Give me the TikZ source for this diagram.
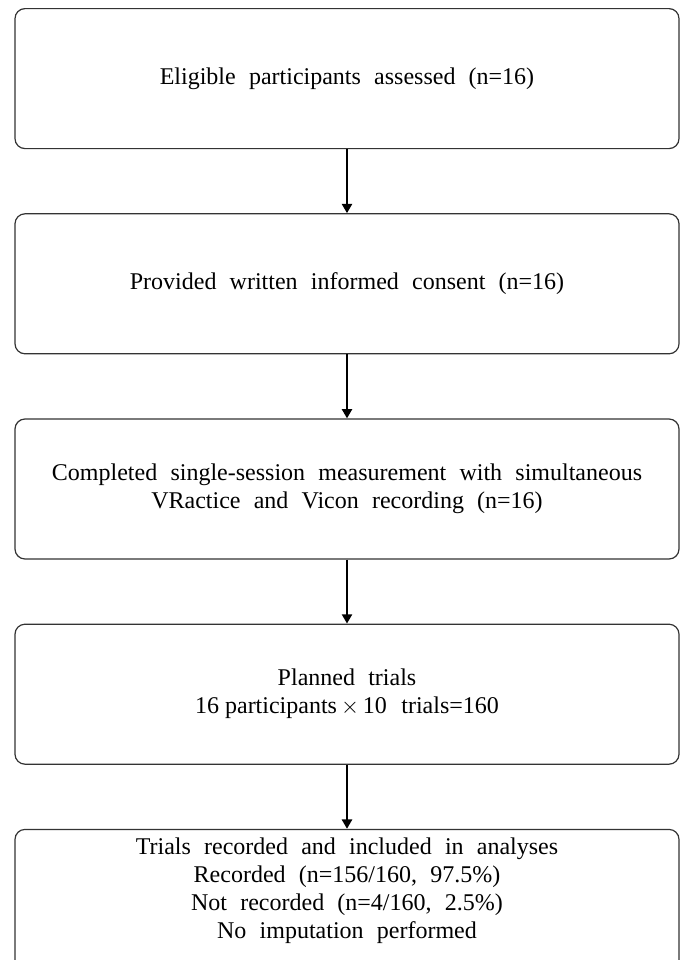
\documentclass[tikz,border=0pt]{standalone}
\usepackage{fontspec}
\setmainfont{Liberation Serif}
\usetikzlibrary{positioning,arrows.meta}
\newcommand\widewords{\spaceskip=0.55em\relax}
\tikzset{
  stage/.style={draw=black!80,line width=0.9pt,rounded corners=7.5pt,
    minimum width=498pt,minimum height=105pt,align=center,
    font=\fontsize{18}{21}\selectfont,execute at begin node=\widewords},
  flow/.style={line width=1.8pt,-{Triangle[length=7pt,width=7.5pt]}}
}
\begin{document}
\begin{tikzpicture}[node distance=48pt]
\useasboundingbox (0,0) rectangle (513pt,-720pt);
\clip (0,0) rectangle (513pt,-720pt);
\node[stage,anchor=north] (assessed) at (260.25pt,-6pt) {Eligible participants assessed (n=16)};
\node[stage,below=of assessed] (consent) {Provided written informed consent (n=16)};
\node[stage,below=of consent] (measured) {Completed single-session measurement with simultaneous\\VRactice and Vicon recording (n=16)};
\node[stage,below=of measured] (planned) {Planned trials\\16\hspace{0.25em}participants\,$\times$\,10\hspace{0.6em}trials=160};
\node[stage,below=of planned,text depth=40pt,inner ysep=6pt] (included) {Trials recorded and included in analyses\\Recorded (n=156/160, 97.5\%)\\Not recorded (n=4/160, 2.5\%)\\No imputation performed};
\draw[flow] (assessed) -- (consent);
\draw[flow] (consent) -- (measured);
\draw[flow] (measured) -- (planned);
\draw[flow] (planned) -- (included);
\end{tikzpicture}
\end{document}
